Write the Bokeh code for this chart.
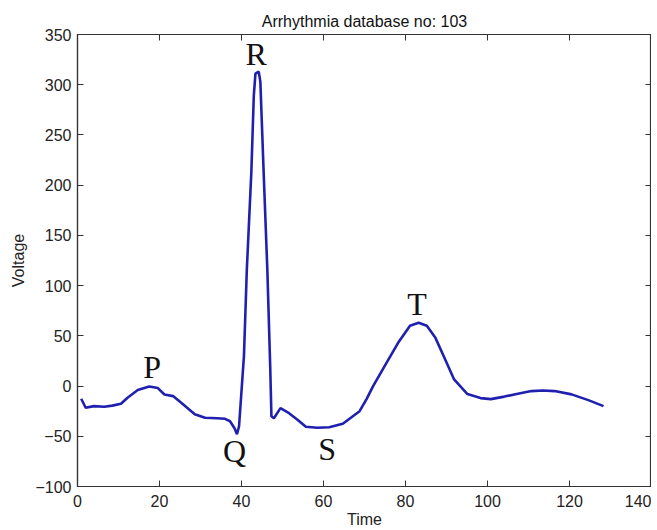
from bokeh.plotting import figure
from bokeh.models import LinearAxis, Range1d, FixedTicker, ColumnDataSource
from bokeh.core.properties import value
from bokeh.embed import file_html
from bokeh.resources import INLINE

# ECG trace
time = [0.9, 2.0, 4.0, 6.5, 8.5, 10.6, 12.2, 14.7, 17.5, 19.6, 21.2, 23.3, 25.3,
        28.6, 31.1, 34.0, 36.0, 37.2, 38.3, 38.9, 39.4, 40.0, 40.6, 41.3, 42.4,
        43.0, 43.4, 44.2, 44.6, 45.4, 46.3, 47.0, 47.3, 47.9, 49.5, 51.6, 53.5,
        55.7, 58.5, 61.4, 64.7, 68.8, 70.5, 72.1, 75.4, 78.2, 81.1, 83.2, 85.2,
        87.3, 89.3, 91.8, 95.1, 98.3, 100.8, 104.1, 107.4, 110.7, 113.5, 116.4,
        120.5, 124.6, 128.3]
voltage = [-12.6, -21.6, -20, -20.6, -19.5, -17.6, -11.6, -4, -0.5, -2, -8.4, -10,
           -16.6, -28, -31.6, -32, -32.6, -35, -42, -48, -40, -5, 30, 116, 213,
           289, 311, 313, 303, 213, 116, 20, -30, -32, -22, -27, -33,
           -40.5, -41.5, -41, -37.5, -25, -13, 0, 23.4, 43, 60, 63, 60,
           48, 30, 7, -8, -12, -13, -10.5, -7.6, -5, -4.5, -5,
           -8.3, -14, -20]

wave_labels = ["P", "Q", "R", "S", "T"]
wave_x = [18.2, 38.3, 43.6, 60.9, 82.8]
wave_y = [18.7, -65, 330.5, -63, 82]

x_ticks = [0, 20, 40, 60, 80, 100, 120, 140]
y_ticks = [-100, -50, 0, 50, 100, 150, 200, 250, 300, 350]

FONT = "Liberation Sans"

p = figure(width=651, height=530, output_backend="svg",
           toolbar_location=None,
           x_range=Range1d(0, 140), y_range=Range1d(-100, 350),
           title="Arrhythmia database no: 103",
           min_border_left=77, min_border_right=0, min_border_top=34,
           min_border_bottom=0)

p.title.align = "center"
p.title.text_font = FONT
p.title.text_font_size = "16px"
p.title.text_font_style = "normal"
p.title.text_color = "#111111"

p.xgrid.visible = False
p.ygrid.visible = False
p.outline_line_color = "#333333"
p.outline_line_width = 1.2

def style_axis(ax, ticks, show_labels):
    ax.ticker = FixedTicker(ticks=ticks)
    ax.major_tick_in = 6
    ax.major_tick_out = 0
    ax.minor_tick_line_color = None
    ax.axis_line_color = "#333333"
    ax.axis_line_width = 1.2
    ax.major_tick_line_color = "#333333"
    ax.major_label_text_font = FONT
    ax.major_label_text_color = "#222222"
    ax.major_label_text_font_size = "16px"
    ax.axis_label_text_font = FONT
    ax.axis_label_text_font_style = "normal"
    ax.axis_label_text_font_size = "16px"
    ax.axis_label_text_color = "#222222"
    if not show_labels:
        ax.major_label_overrides = {t: "" for t in ticks}
        ax.major_label_standoff = 0

style_axis(p.xaxis[0], x_ticks, True)
style_axis(p.yaxis[0], y_ticks, True)
p.xaxis[0].axis_label = "Time"
p.xaxis[0].major_label_standoff = 8
p.xaxis[0].axis_label_standoff = 1
p.yaxis[0].axis_label = "Voltage"
p.yaxis[0].major_label_standoff = 6
p.yaxis[0].axis_label_standoff = 5

top_axis = LinearAxis()
style_axis(top_axis, x_ticks, False)
p.add_layout(top_axis, "above")
right_axis = LinearAxis()
style_axis(right_axis, y_ticks, False)
p.add_layout(right_axis, "right")

p.line(time, voltage, line_color="#2020b0", line_width=2.6)

src = ColumnDataSource(dict(x=wave_x, y=wave_y, t=wave_labels))
p.text(x="x", y="y", text="t", source=src, text_font=value("Liberation Serif"),
       text_font_size="32px", text_align="center", text_baseline="middle",
       text_color="#111111")

open("out.html", "w").write(file_html(p, INLINE))
